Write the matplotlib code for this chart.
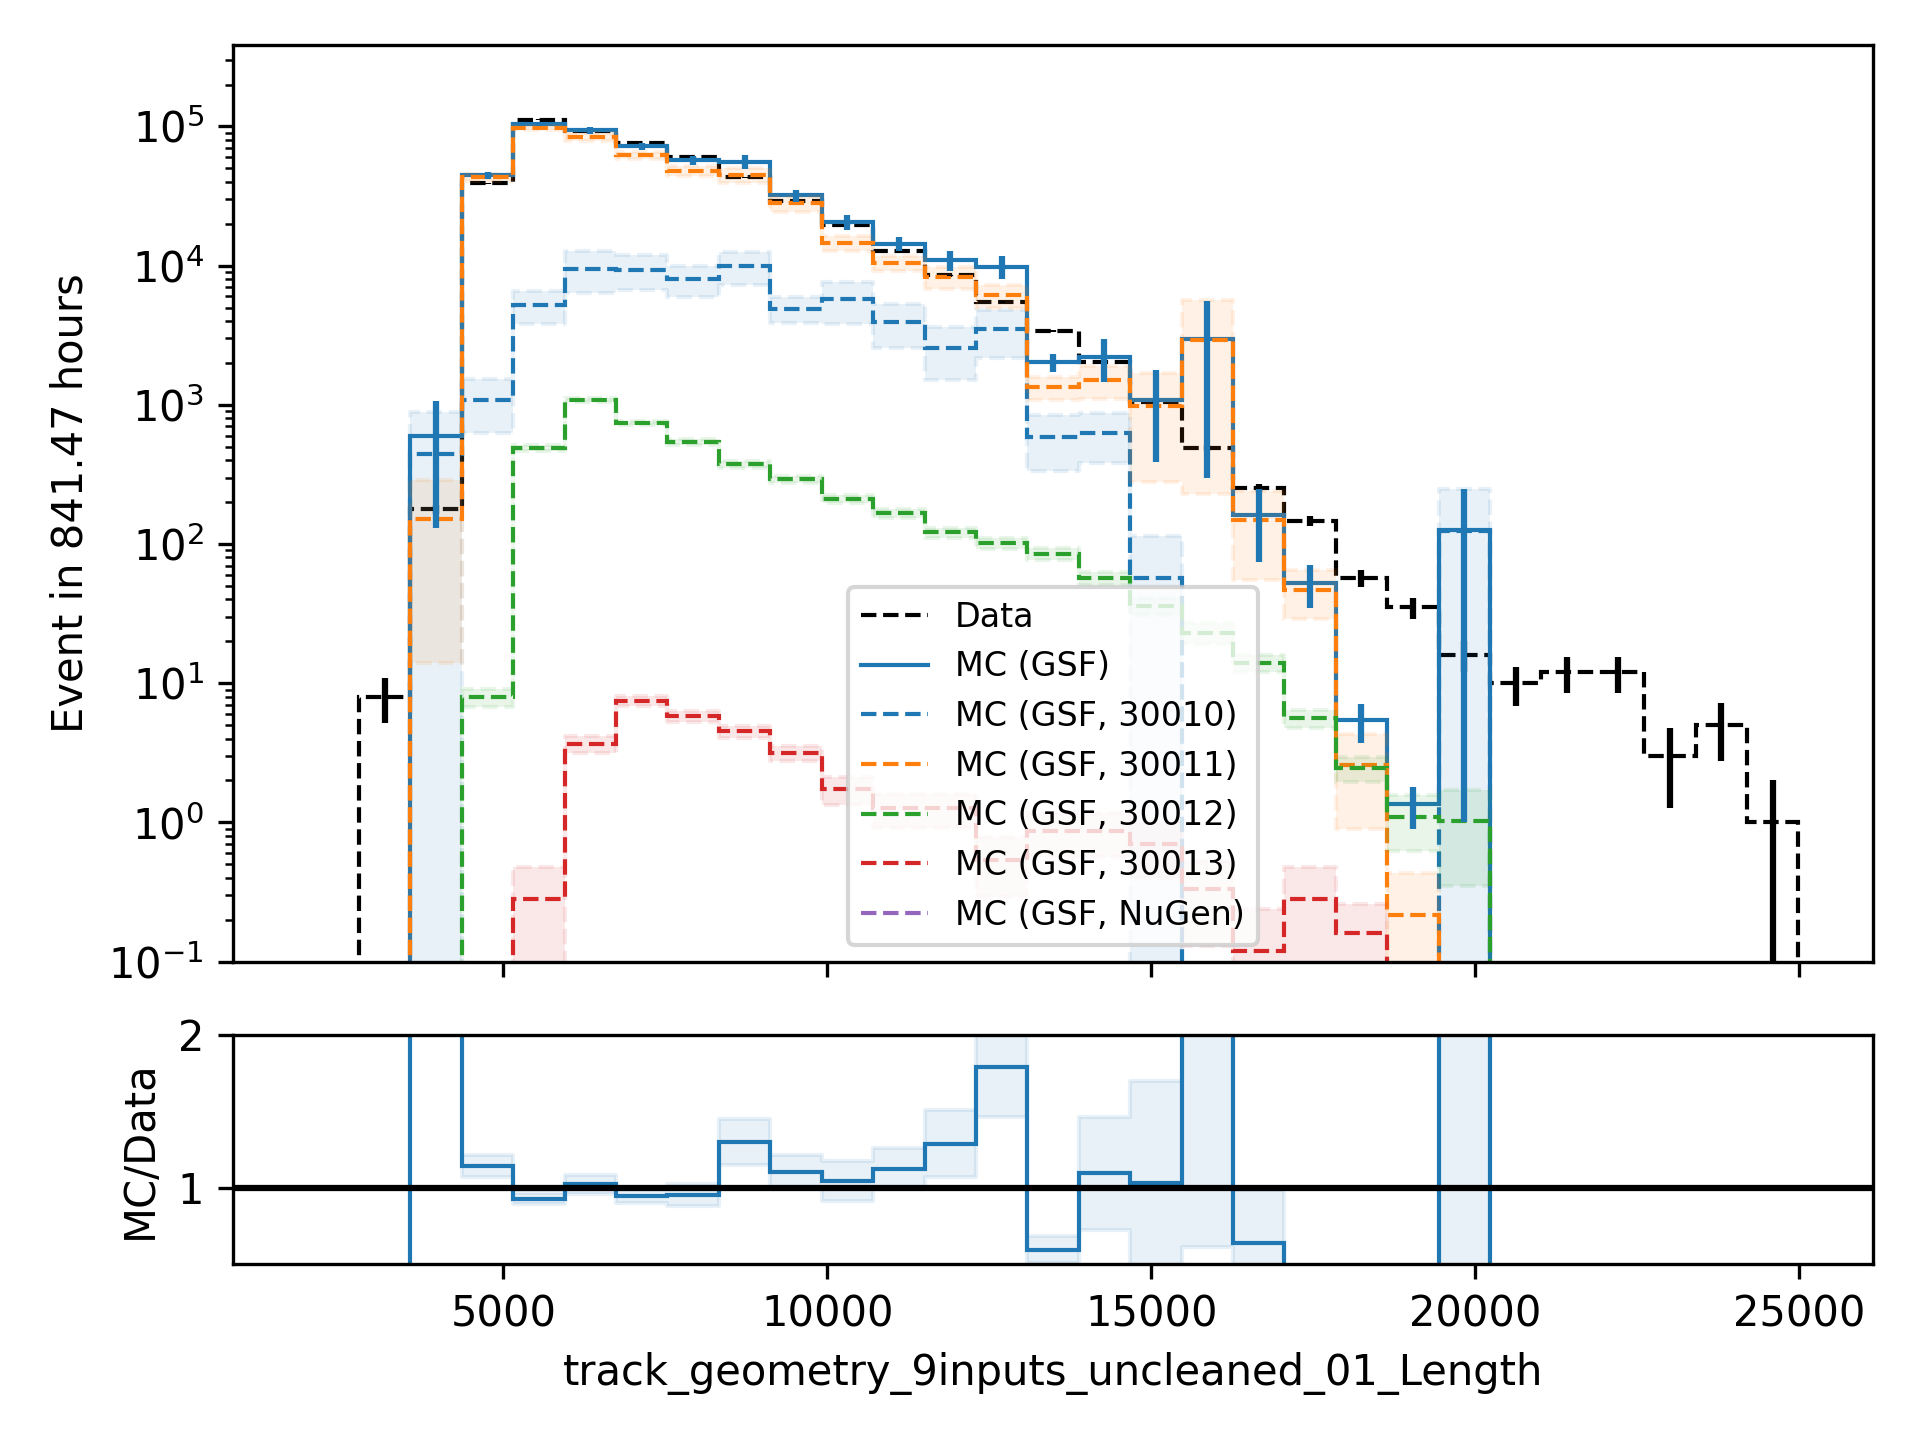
import numpy as np
import matplotlib
matplotlib.use('Agg')
import matplotlib.pyplot as plt

# binning of the length variable (29 bins)
edges = np.linspace(1980, 24985, 30)

data = np.array([0, 8, 178, 39000, 112000, 92000, 76000, 60000, 43000, 29000,
                 19700, 12800, 8500, 5500, 3400, 2030, 1055, 490, 254, 147,
                 57, 35, 16, 10, 12, 12, 3, 5, 1])

mc_total = np.array([0, 0, 600, 44500, 104000, 94000, 72000, 57000, 55800, 32000,
                     20600, 14400, 10950, 9850, 2020, 2220, 1090, 2950, 162, 52.6,
                     5.4, 1.35, 125, 0, 0, 0, 0, 0, 0])
mc_total_err = np.array([0, 0, 470, 2800, 3900, 5600, 3800, 4300, 6400, 3200,
                         2600, 1750, 1870, 1800, 300, 750, 700, 2650, 88, 18,
                         1.7, 0.45, 124, 0, 0, 0, 0, 0, 0])

mc_30010 = np.array([0, 0, 442, 1080, 5190, 9530, 9270, 7950, 9900, 4900,
                     5730, 3940, 2580, 3490, 590, 630, 57, 0, 0, 0,
                     0, 0, 124, 0, 0, 0, 0, 0, 0])
err_30010 = np.array([0, 0, 450, 450, 1400, 3200, 2600, 2000, 2600, 1060,
                      1950, 1400, 1070, 1330, 255, 250, 58, 0, 0, 0,
                      0, 0, 125, 0, 0, 0, 0, 0, 0])

mc_30011 = np.array([0, 0, 151, 43300, 98000, 84000, 62000, 48000, 44500, 28000,
                     14600, 10400, 8300, 6100, 1340, 1500, 980, 2930, 148, 47,
                     2.6, 0.216, 0, 0, 0, 0, 0, 0, 0])
err_30011 = np.array([0, 0, 137, 2500, 3500, 5000, 3500, 4000, 5500, 3700,
                      1800, 1300, 1500, 1100, 250, 400, 700, 2700, 93, 18,
                      1.7, 0.22, 0, 0, 0, 0, 0, 0, 0])

mc_30012 = np.array([0, 0, 0, 7.9, 493, 1080, 740, 540, 374, 292,
                     212, 166, 121, 101, 85, 57, 36, 23, 14, 5.6,
                     2.46, 1.1, 1.03, 0, 0, 0, 0, 0, 0])
err_30012 = np.array([0, 0, 0, 1.2, 25, 40, 30, 25, 20, 17,
                      14, 12, 10, 9, 8, 6, 5, 4, 1.9, 0.85,
                      0.5, 0.48, 0.68, 0, 0, 0, 0, 0, 0])

mc_30013 = np.array([0, 0, 0, 0, 0.28, 3.65, 7.5, 5.8, 4.5, 3.16,
                     1.73, 1.26, 1.26, 0.54, 0.86, 0.86, 0.7, 0.33, 0.12, 0.28,
                     0.16, 0, 0, 0, 0, 0, 0, 0, 0])
err_30013 = np.array([0, 0, 0, 0, 0.2, 0.5, 0.6, 0.5, 0.45, 0.4,
                      0.4, 0.35, 0.35, 0.25, 0.3, 0.3, 0.3, 0.2, 0.12, 0.2,
                      0.1, 0, 0, 0, 0, 0, 0, 0, 0])

mc_nugen = np.zeros(29)
err_nugen = np.zeros(29)

# bins whose ratio band is not drawn in the lower panel
ratio_band_hidden = [2]

components = [
    (mc_30010, err_30010, 'C0', 'MC (GSF, 30010)'),
    (mc_30011, err_30011, 'C1', 'MC (GSF, 30011)'),
    (mc_30012, err_30012, 'C2', 'MC (GSF, 30012)'),
    (mc_30013, err_30013, 'C3', 'MC (GSF, 30013)'),
    (mc_nugen, err_nugen, 'C4', 'MC (GSF, NuGen)'),
]


def step_band(v):
    # fill_between with step='post' needs one more point than bins
    return np.append(v, v[-1])


fig, (ax, rax) = plt.subplots(2, 1, figsize=(6.4, 4.8), dpi=300, sharex=True,
                              gridspec_kw={'height_ratios': [4, 1]})
fig.subplots_adjust(left=0.1214, right=0.9755, top=0.9688, bottom=0.1222, hspace=0.128)

centers = 0.5 * (edges[1:] + edges[:-1])

ax.stairs(data, edges, color='k', linestyle='--', linewidth=1, label='Data')
ax.errorbar(centers, data, yerr=np.sqrt(data), fmt='none', ecolor='k')
ax.stairs(mc_total, edges, color='C0', linewidth=1, label='MC (GSF)')
ax.errorbar(centers, mc_total, yerr=mc_total_err, fmt='none', ecolor='C0')

for vals, errs, col, lab in components:
    ax.stairs(vals, edges, color=col, linestyle='--', linewidth=1, label=lab)
    ax.fill_between(edges, step_band(vals - errs), step_band(vals + errs),
                    step='post', color=col, alpha=0.1, linestyle='--')

ax.set_yscale('log')
ax.set_ylim(0.1, 3.85e5)
ax.set_ylabel('Event in 841.47 hours')
ax.legend(loc='lower center', fontsize=8)

# ratio panel
ratio = np.full(len(data), np.nan)
ratio_err = np.full(len(data), np.nan)
mask = data > 0
ratio[mask] = mc_total[mask] / data[mask]
ratio_err[mask] = mc_total_err[mask] / data[mask]
ratio_err[ratio_band_hidden] = np.nan

rax.stairs(ratio, edges, color='C0', linewidth=1)
rax.fill_between(edges, step_band(ratio - ratio_err), step_band(ratio + ratio_err),
                 step='post', color='C0', alpha=0.1)
rax.axhline(1, color='k', linewidth=1.5)
rax.set_ylim(0.5, 2)
rax.set_yticks([1, 2])
rax.set_ylabel('MC/Data')
rax.set_xlabel('track_geometry_9inputs_uncleaned_01_Length')

fig.savefig('out.png', dpi=300)
